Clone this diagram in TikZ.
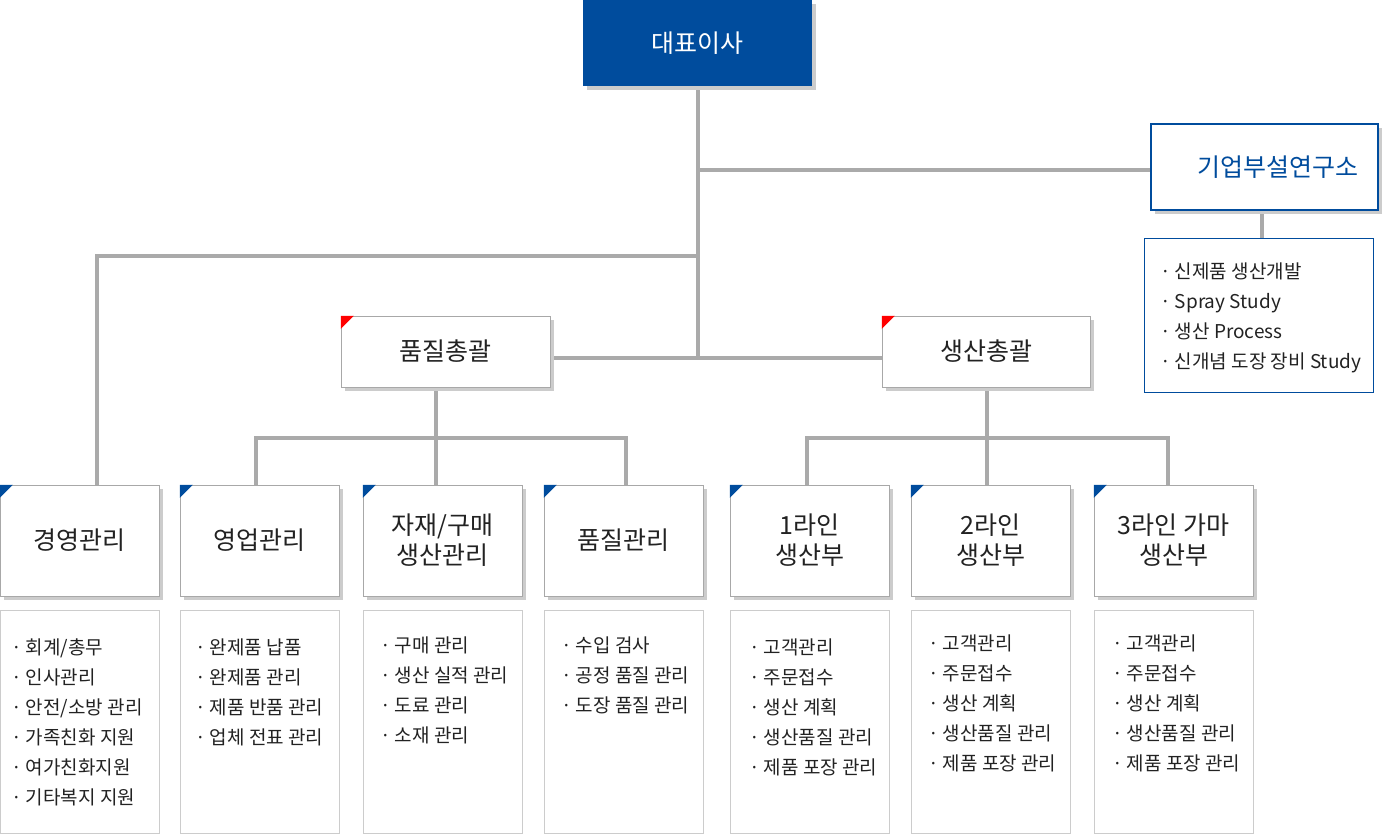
\documentclass[tikz,border=0pt]{standalone}
\usepackage{fontspec}
\setmainfont{Noto Sans CJK KR}
\usetikzlibrary{positioning,shadows,backgrounds}
\usepackage{xcolor}

\definecolor{ceoblue}{HTML}{004C9D}
\definecolor{linkgray}{HTML}{AAAAAA}
\definecolor{framegray}{HTML}{A8A8A8}
\definecolor{listgray}{HTML}{CCCCCC}
\definecolor{textgray}{HTML}{222222}

\tikzset{
  link/.style={draw=linkgray, line width=4},
  boxshadow/.style={drop shadow={shadow xshift=4pt, shadow yshift=-4pt, fill=black!20, opacity=1}},
  head/.style={font=\fontsize{25}{30}\selectfont, align=center},
  ceobox/.style={head, fill=ceoblue, text=white, minimum width=229, minimum height=86, boxshadow},
  labbox/.style={head, draw=ceoblue, line width=2, fill=white, text=ceoblue, text width=187, align=right,
    inner xsep=20, minimum height=86, boxshadow},
  sumbox/.style={head, draw=framegray, fill=white, text=textgray, minimum height=71, boxshadow},
  deptbox/.style={head, draw=framegray, fill=white, text=textgray, minimum width=159, minimum height=111, boxshadow},
  dutybox/.style={draw=listgray, minimum width=159, minimum height=223},
  items/.style={font=\fontsize{19}{30}\selectfont, text=textgray, align=left, inner sep=0, anchor=north west},
}

\begin{document}
\begin{tikzpicture}[x=1pt, y=-1pt]
    \useasboundingbox (0,0) rectangle (1383,835);

    % Top boxes
    \node[ceobox] (ceo) at (697.5,43) {대표이사};
    \node[labbox] (lab) at (1264.5,167) {기업부설연구소};
    \node[draw=ceoblue, minimum width=229, minimum height=154] (labl) at (1258.5,315) {};
    \node[items] (labt) at ([shift={(16,25)}]labl.north west)
        {· 신제품 생산개발\\· Spray Study\\· 생산 Process\\· 신개념 도장 장비 Study};

    % Two heads in the middle
    \node[sumbox, minimum width=209] (qa) at (445.5,351.5) {품질총괄};
    \node[sumbox, minimum width=208] (pr) at (986,351.5) {생산총괄};
    \foreach \b in {qa,pr} {
        \fill[red] (\b.north west) -- ++(13,0) -- ++(-13,13) -- cycle;
    }

    % Department boxes
    \node[deptbox] (d1) at (79.5,540.5) {경영관리};
    \node[deptbox] (d2) at (259.5,540.5) {영업관리};
    \node[deptbox] (d3) at (442.5,540.5) {자재/구매\\생산관리};
    \node[deptbox] (d4) at (623.5,540.5) {품질관리};
    \node[deptbox] (d5) at (809.5,540.5) {1라인\\생산부};
    \node[deptbox] (d6) at (990.5,540.5) {2라인\\생산부};
    \node[deptbox] (d7) at (1173.5,540.5) {3라인 가마\\생산부};
    \foreach \b in {d1,d2,d3,d4,d5,d6,d7} {
        \fill[ceoblue] (\b.north west) -- ++(13,0) -- ++(-13,13) -- cycle;
    }

    % Duty lists
    \foreach \b/\x in {l1/79.5,l2/259.5,l3/442.5,l4/623.5,l5/809.5,l6/990.5,l7/1173.5} {
        \node[dutybox] (\b) at (\x,721.5) {};
    }
    \node[items] (l1t) at ([shift={(11,29)}]l1.north west)
        {· 회계/총무\\· 인사관리\\· 안전/소방 관리\\· 가족친화 지원\\· 여가친화지원\\· 기타복지 지원};
    \node[items] (l2t) at ([shift={(15,29)}]l2.north west)
        {· 완제품 납품\\· 완제품 관리\\· 제품 반품 관리\\· 업체 전표 관리};
    \node[items] (l3t) at ([shift={(17,27)}]l3.north west)
        {· 구매 관리\\· 생산 실적 관리\\· 도료 관리\\· 소재 관리};
    \node[items] (l4t) at ([shift={(17,27)}]l4.north west)
        {· 수입 검사\\· 공정 품질 관리\\· 도장 품질 관리};
    \node[items] (l5t) at ([shift={(19,29)}]l5.north west)
        {· 고객관리\\· 주문접수\\· 생산 계획\\· 생산품질 관리\\· 제품 포장 관리};
    \node[items] (l6t) at ([shift={(17,25)}]l6.north west)
        {· 고객관리\\· 주문접수\\· 생산 계획\\· 생산품질 관리\\· 제품 포장 관리};
    \node[items] (l7t) at ([shift={(18,25)}]l7.north west)
        {· 고객관리\\· 주문접수\\· 생산 계획\\· 생산품질 관리\\· 제품 포장 관리};

    % Junctions of the connectors
    \coordinate (labj) at (697.5,170);
    \coordinate (mgj) at (697.5,256);
    \coordinate (hub) at (697.5,358);
    \coordinate (qaj) at (436,438);
    \coordinate (prj) at (987,438);

    % Draw the connectors under the boxes
    \begin{scope}[on background layer]
    \draw[link] (ceo) -- (hub);
    \draw[link] (labj) -- (labj -| lab.west);
    \draw[link] (mgj) -| ([xshift=17.5]d1.north);
    \draw[link] (qa.east |- hub) -- (pr.west |- hub);
    \draw[link] (qaj |- qa.south) -- (qaj);
    \draw[link] (prj |- pr.south) -- (prj);
    \foreach \b/\dx in {d2/-3.5,d3/-6.5,d4/2.5} {
        \draw[link] ([xshift=\dx]\b.north) |- (qaj);
    }
    \foreach \b/\dx in {d5/-2.5,d6/-3.5,d7/-5.5} {
        \draw[link] ([xshift=\dx]\b.north) |- (prj);
    }
    \draw[link] ([xshift=-2.5]lab.south) -- ([xshift=-2.5]lab.south |- labl.north);
    \end{scope}
\end{tikzpicture}
\end{document}
